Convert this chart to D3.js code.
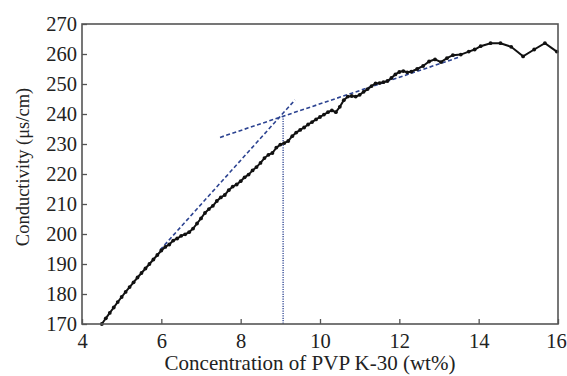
<!DOCTYPE html>
<html>
<head>
<meta charset="utf-8">
<script src="https://cdn.jsdelivr.net/npm/d3@7"></script>
<style>
  body { margin: 0; background: #fff; }
  svg { display: block; font-family: "Liberation Serif", "Times New Roman", serif; }
</style>
</head>
<body>
<div id="chart"></div>
<script>
// conductivity curve
const conc = [4.50, 4.60, 4.70, 4.80, 4.90, 5.00, 5.10, 5.20, 5.30, 5.40, 5.50, 5.60, 5.70, 5.80, 5.90,
  6.00, 6.10, 6.20, 6.30, 6.40, 6.50, 6.60, 6.70, 6.80, 6.90, 7.00, 7.10, 7.20, 7.30, 7.40,
  7.50, 7.60, 7.70, 7.80, 7.90, 8.00, 8.10, 8.20, 8.30, 8.40, 8.50, 8.60, 8.70, 8.80, 8.90,
  9.00, 9.10, 9.20, 9.30, 9.40, 9.50, 9.60, 9.70, 9.80, 9.90, 10.00, 10.10, 10.20, 10.30, 10.40,
  10.50, 10.60, 10.70, 10.80, 10.90, 11.00, 11.10, 11.20, 11.30, 11.40, 11.50, 11.60, 11.70, 11.80, 11.90,
  12.00, 12.10, 12.20, 12.30, 12.45, 12.60, 12.75, 12.90, 13.05, 13.20, 13.35, 13.55, 13.75, 13.90, 14.05,
  14.30, 14.55, 14.82, 15.12, 15.40, 15.67, 15.97];
const cond = [170.0, 171.9, 173.7, 175.5, 177.3, 179.0, 180.7, 182.3, 183.9, 185.5, 187.0, 188.5, 190.0, 191.5, 193.0,
  194.5, 195.7, 196.5, 197.8, 198.5, 199.4, 199.9, 200.6, 201.8, 203.5, 205.2, 207.0, 208.3, 209.4, 211.0,
  212.2, 213.0, 214.6, 215.8, 216.5, 217.6, 218.9, 219.8, 221.2, 222.3, 223.7, 225.3, 226.4, 227.0, 228.8,
  229.8, 230.3, 231.0, 232.6, 233.8, 234.7, 235.5, 236.5, 237.3, 238.2, 239.0, 239.8, 240.6, 241.2, 240.6,
  242.4, 244.6, 245.8, 246.0, 245.8, 246.4, 247.4, 248.3, 249.3, 250.2, 250.3, 250.6, 251.0, 252.0, 253.2,
  254.0, 254.3, 253.9, 254.1, 255.0, 256.0, 257.5, 258.2, 257.3, 258.6, 259.6, 259.8, 260.8, 261.5, 262.6,
  263.6, 263.6, 262.4, 259.2, 261.5, 263.6, 260.8];

// tangent lines and the break point
const steepLine = [[5.97, 194.7], [9.37, 244.7]];
const flatLine = [[7.48, 232.2], [13.5, 258.9]];
const breakX = 9.07;
const breakY = 239.3;

const xTicks = [4, 6, 8, 10, 12, 14, 16];
const yTicks = [170, 180, 190, 200, 210, 220, 230, 240, 250, 260, 270];

const width = 567;
const height = 376;
const margin = { top: 24, right: 9, bottom: 52, left: 82 };

const svg = d3.select("#chart")
    .append("svg")
    .attr("width", width)
    .attr("height", height);

const x = d3.scaleLinear().domain([4, 16]).range([margin.left, width - margin.right]);
const y = d3.scaleLinear().domain([170, 270]).range([height - margin.bottom, margin.top]);

const blue = "#2c4391";
const frame = "#555";

// tangents
const line = d3.line().x(d => x(d[0])).y(d => y(d[1]));
svg.append("path")
    .datum(steepLine)
    .attr("d", line)
    .attr("fill", "none")
    .attr("stroke", blue)
    .attr("stroke-width", 1.6)
    .attr("stroke-dasharray", "4,2.5");
svg.append("path")
    .datum(flatLine)
    .attr("d", line)
    .attr("fill", "none")
    .attr("stroke", blue)
    .attr("stroke-width", 1.6)
    .attr("stroke-dasharray", "4,2.5");
svg.append("line")
    .attr("x1", x(breakX)).attr("x2", x(breakX))
    .attr("y1", y(breakY)).attr("y2", y(170))
    .attr("stroke", blue)
    .attr("stroke-width", 1.3)
    .attr("stroke-dasharray", "1.2,1.2");

// data curve
const pts = conc.map((c, i) => [c, cond[i]]);
svg.append("path")
    .datum(pts)
    .attr("d", line)
    .attr("fill", "none")
    .attr("stroke", "#111")
    .attr("stroke-width", 2);
svg.append("g")
    .selectAll("circle")
    .data(pts)
    .join("circle")
    .attr("cx", d => x(d[0]))
    .attr("cy", d => y(d[1]))
    .attr("r", 1.9)
    .attr("fill", "#111");

// axes, ticks inside
const xAxis = d3.axisBottom(x).tickValues(xTicks).tickSizeInner(-5).tickSizeOuter(0).tickPadding(9);
const yAxis = d3.axisLeft(y).tickValues(yTicks).tickSizeInner(-5).tickSizeOuter(0).tickPadding(5);

const gx = svg.append("g")
    .attr("transform", `translate(0,${height - margin.bottom})`)
    .call(xAxis);
const gy = svg.append("g")
    .attr("transform", `translate(${margin.left},0)`)
    .call(yAxis);

[gx, gy].forEach(g => {
    g.select(".domain").remove();
    g.selectAll(".tick line").attr("stroke", frame).attr("stroke-width", 1.3);
    g.selectAll(".tick text")
        .attr("fill", "#222")
        .style("font-size", "20.5px")
        .style("font-family", "Liberation Serif, serif");
});
// last x label sits against the page edge
gx.selectAll(".tick text").filter(d => d === 16).attr("dx", "-2px");

// frame box
svg.append("rect")
    .attr("x", margin.left)
    .attr("y", margin.top)
    .attr("width", width - margin.left - margin.right)
    .attr("height", height - margin.top - margin.bottom)
    .attr("fill", "none")
    .attr("stroke", frame)
    .attr("stroke-width", 1.6);

// axis titles
svg.append("text")
    .attr("x", 310)
    .attr("y", 370)
    .attr("text-anchor", "middle")
    .attr("fill", "#222")
    .style("font-size", "21px")
    .text("Concentration of PVP K-30 (wt%)");

svg.append("text")
    .attr("transform", "translate(29,167) rotate(-90)")
    .attr("text-anchor", "middle")
    .attr("fill", "#222")
    .style("font-size", "18.5px")
    .text("Conductivity (μs/cm)");
</script>
</body>
</html>
